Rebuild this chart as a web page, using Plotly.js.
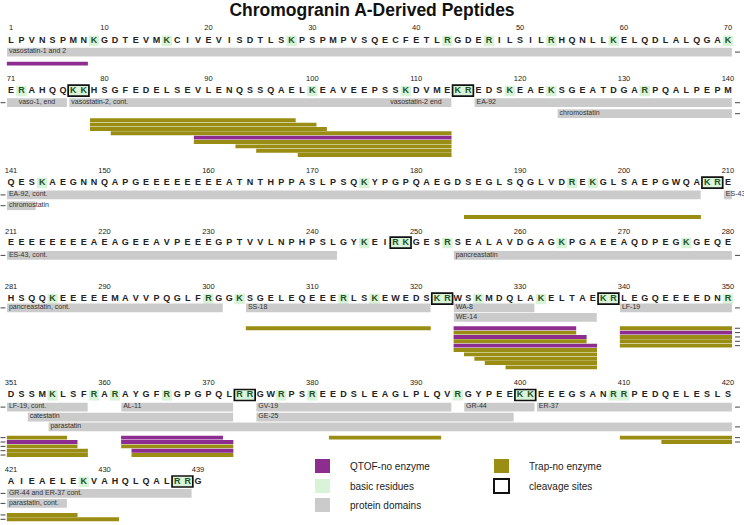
<!DOCTYPE html>
<html><head><meta charset="utf-8">
<script src="https://cdn.plot.ly/plotly-3.0.1.min.js"></script>
<style>html,body{margin:0;padding:0;background:#fff}</style>
</head><body><div id="chart" style="width:744px;height:525px"></div>
<script>
// ---------------- DATA ----------------
const titleText = "Chromogranin A-Derived Peptides";
const sequence =
 "LPVNSPMNKGDTEVMKCIVEVISDTLSKPSPMPVSQECFETLRGDERILSILRHQNLLKELQDLALQGAK" +
 "ERAHQQKKHSGFEDELSEVLENQSSQAELKEAVEEPSSKDVMEKREDSKEAEKSGEATDGARPQALPEPM" +
 "QESKAEGNNQAPGEEEEEEEEATNTHPPASLPSQKYPGPQAEGDSEGLSQGLVDREKGLSAEPGWQAKRE" +
 "EEEEEEEEAEAGEEAVPEEEGPTVVLNPHPSLGYKEIRKGESRSEALAVDGAGKPGAEEAQDPEGKGEQE" +
 "HSQQKEEEEEMAVVPQGLFRGGKSGELEQEEERLSKEWEDSKRWSKMDQLAKELTAEKRLEGQEEEEDNR" +
 "DSSMKLSFRARAYGFRGPGPQLRRGWRPSREEDSLEAGLPLQVRGYPEEKKEEEGSANRRPEDQELESLS" +
 "AIEAELEKVAHQLQALRRG";
const basicResidues = ["K", "R"];
const cleavageSites = [77, 114, 208, 248, 322, 338, 373, 400, 437]; // first residue of each pair

// protein domains, as drawn per line
const domStart = [1, 71, 77, 116, 124, 141, 141, 210, 211, 254, 281, 304, 324, 324, 340, 351, 362, 375, 395, 402, 353, 375, 355, 421, 421];
const domEnd   = [70, 76, 113, 140, 140, 207, 143, 210, 242, 280, 301, 321, 331, 337, 350, 358, 372, 393, 401, 420, 372, 399, 420, 438, 426];
const domTrack = [0, 0, 0, 0, 1, 0, 1, 0, 0, 0, 0, 0, 0, 1, 0, 0, 0, 0, 0, 0, 1, 1, 2, 0, 1];
const domLabel = ["vasostatin-1 and 2", "vaso-1, end", "vasostatin-2, cont.", "EA-92", "chromostatin",
  "EA-92, cont.", "chromostatin", "ES-43", "ES-43, cont.", "pancreastatin", "pancreastatin, cont.",
  "SS-18", "WA-8", "WE-14", "LF-19", "LF-19, cont.", "AL-11", "GV-19", "GR-44", "ER-37",
  "catestatin", "GE-25", "parastatin", "GR-44 and ER-37 cont.", "parastatin, cont."];
const domCont  = ["R", "L", "", "R", "R", "L", "L", "", "L", "R", "L", "", "", "", "R", "L", "", "", "", "R", "", "", "R", "L", "L"];
const domAlign = ["l", "c", "l", "l", "l", "l", "l", "l", "l", "l", "l", "l", "l", "l", "l", "l", "l", "l", "l", "l", "l", "l", "l", "l", "l"];
const extraLabel = ["vasostatin-2 end"];
const extraLabelAt = [108];
const extraLabelTrack = [0];

// observed peptides (Q = QTOF-no enzyme, T = Trap-no enzyme)
const pepStart = [1, 79, 79, 79, 81, 89, 89, 93, 95, 99, 185, 304, 324, 324, 324, 324, 324, 324, 325, 326, 327, 329, 340, 340, 340, 340, 340, 362, 362, 362, 363, 363, 382, 410, 414];
const pepEnd   = [8, 98, 100, 101, 113, 113, 113, 113, 113, 113, 207, 321, 335, 335, 336, 336, 337, 337, 337, 337, 337, 337, 356, 357, 357, 358, 358, 371, 372, 372, 372, 372, 392, 427, 431];
const pepType  = ["Q", "T", "T", "T", "T", "Q", "T", "T", "T", "T", "T", "T", "Q", "T", "Q", "T", "Q", "T", "T", "T", "T", "T", "T", "Q", "T", "T", "T", "Q", "Q", "T", "Q", "T", "T", "T", "T"];

const legendNames = ["QTOF-no enzyme", "basic residues", "protein domains", "Trap-no enzyme", "cleavage sites"];

// ---------------- LAYOUT / STYLE ----------------
const W = 744, H = 525, C1 = 11, DX = 10.39, PER = 70;
const COL = {Q: "#8c2d8f", T: "#9a8d13", gray: "#cbcbcb", green: "#d8f3d8", text: "#222", basic: "#1d521f"};
const FONT = "Liberation Sans, Arial, sans-serif";
const lineY = [
  {num: 28,    let: 40.5,  gray: [47.7, 58],          bars: 61.7},
  {num: 79,    let: 90.7,  gray: [98.3, 109.3],       bars: 118.3},
  {num: 170.7, let: 182.7, gray: [190.5, 201.3],      bars: 215},
  {num: 231.7, let: 242.7, gray: [251],               bars: 265},
  {num: 287,   let: 298.7, gray: [303.5, 313],        bars: 326.3},
  {num: 383.3, let: 395,   gray: [402.7, 412.7, 422.5], bars: 435.7},
  {num: 470,   let: 481.5, gray: [489, 499],          bars: 513}
];
const GRAY_H = 8.8, ROW_P = 4.35, ROW_H = 3.9;
const N = sequence.length;
const nLines = Math.ceil(N / PER);
const lineOf = r => Math.floor((r - 1) / PER);
const colOf = r => r - lineOf(r) * PER;
const pxToCol = px => 1 + (px - C1) / DX;

const traces = [];
function barTrace(items, color, lineOpt) {
  traces.push({
    type: "bar", orientation: "h",
    base: items.map(d => d.c0), x: items.map(d => d.c1 - d.c0), y: items.map(d => d.y),
    width: items.map(d => d.h),
    marker: {color: color, line: lineOpt || {width: 0}},
    hoverinfo: "skip", showlegend: false
  });
}
function textTrace(xs, ys, texts, size, color, pos, weight) {
  traces.push({
    type: "scatter", mode: "text", x: xs, y: ys, text: texts,
    textposition: pos || "middle center",
    textfont: {family: FONT, size: size, color: color, weight: weight || "normal"},
    hoverinfo: "skip", showlegend: false, cliponaxis: false
  });
}

// basic residue highlights
const hl = [];
for (let r = 1; r <= N; r++) {
  if (basicResidues.includes(sequence[r - 1])) {
    const c = colOf(r);
    hl.push({c0: c - 0.5, c1: c + 0.5, y: lineY[lineOf(r)].let + 0.3, h: 10.5});
  }
}
barTrace(hl, COL.green);

// domains
const dom = [], dashX = [], dashY = [];
const labX = [], labY = [], labT = [], labP = [];
domStart.forEach((s, i) => {
  const L = lineOf(s), e = domEnd[i];
  const yc = lineY[L].gray[domTrack[i]] + GRAY_H / 2;
  const c0 = colOf(s), c1 = colOf(e);
  dom.push({c0: c0 - 0.5 + 0.12, c1: c1 + 0.5 - 0.12, y: yc, h: GRAY_H});
  if (domAlign[i] === "c") { labX.push((c0 + c1) / 2); labP.push("middle center"); }
  else { labX.push(c0 - 0.5 + 0.3); labP.push("middle right"); }
  labY.push(yc - 0.6); labT.push(domLabel[i]);
  if (domCont[i].includes("L")) { dashX.push(pxToCol(3)); dashY.push(yc); }
  if (domCont[i].includes("R")) { dashX.push(pxToCol(737.5)); dashY.push(yc); }
});
extraLabel.forEach((t, i) => {
  const r = extraLabelAt[i], L = lineOf(r);
  labX.push(colOf(r) - 0.5); labY.push(lineY[L].gray[extraLabelTrack[i]] + GRAY_H / 2 - 0.6);
  labT.push(t); labP.push("middle right");
});
barTrace(dom, COL.gray);

// peptides: split across lines and stack greedily per line
const rows = Array.from({length: nLines}, () => []);
const pepBars = {Q: [], T: []};
pepStart.forEach((s, i) => {
  const e = pepEnd[i];
  for (let L = lineOf(s); L <= lineOf(e); L++) {
    const ls = L * PER + 1, le = L * PER + PER;
    const ss = Math.max(s, ls), se = Math.min(e, le);
    let k = 0;
    while (rows[L][k] && rows[L][k].some(([a, b]) => !(ss > b + 1 || se < a - 1))) k++;
    if (!rows[L][k]) rows[L][k] = [];
    rows[L][k].push([ss, se]);
    const yc = lineY[L].bars + k * ROW_P + ROW_H / 2;
    pepBars[pepType[i]].push({c0: colOf(ss) - 0.5 + 0.1, c1: colOf(se) + 0.5 - 0.1, y: yc, h: ROW_H});
    if (e > le) { dashX.push(pxToCol(737.5)); dashY.push(yc); }
    if (s < ls) { dashX.push(pxToCol(3)); dashY.push(yc); }
  }
});
barTrace(pepBars.T, COL.T);
barTrace(pepBars.Q, COL.Q);

// cleavage site boxes
const cb = cleavageSites.map(r => ({c0: colOf(r) - 0.5, c1: colOf(r + 1) + 0.5, y: lineY[lineOf(r)].let, h: 11}));
barTrace(cb, "rgba(0,0,0,0)", {color: "#111", width: 1.7});

// letters
const lx = [], ly = [], lt = [], bx = [], by = [], bt = [];
for (let r = 1; r <= N; r++) {
  const ch = sequence[r - 1], L = lineOf(r);
  if (basicResidues.includes(ch)) { bx.push(colOf(r)); by.push(lineY[L].let); bt.push(ch); }
  else { lx.push(colOf(r)); ly.push(lineY[L].let); lt.push(ch); }
}
textTrace(lx, ly, lt, 9, COL.text, "middle center", "bold");
textTrace(bx, by, bt, 9, COL.basic, "middle center", "bold");

// residue numbers
const nx = [], ny = [], nt = [];
for (let r = 1; r <= N; r++) {
  const L = lineOf(r);
  if (r === L * PER + 1 || r % 10 === 0 || r === N) { nx.push(colOf(r)); ny.push(lineY[L].num); nt.push(String(r)); }
}
textTrace(nx, ny, nt, 7.5, COL.text);

// domain labels
textTrace(labX, labY, labT, 7, "#333", labP);

// continuation dashes (small horizontal ticks)
traces.push({
  type: "scatter", mode: "markers", x: dashX, y: dashY,
  marker: {symbol: "line-ew", size: 3.5, line: {width: 1, color: "#444"}},
  hoverinfo: "skip", showlegend: false, cliponaxis: false
});

// legend (drawn manually, two columns)
const px = x => x / W, py = y => 1 - y / H;
const legX = [315, 315, 315, 494, 494], legY = [466, 486, 505, 466, 486];
const legFill = [COL.Q, COL.green, COL.gray, COL.T, "#ffffff"];
const shapes = [], annotations = [];
legendNames.forEach((n, i) => {
  shapes.push({type: "rect", xref: "paper", yref: "paper",
    x0: px(legX[i]), x1: px(legX[i] + 15), y0: py(legY[i] + 7), y1: py(legY[i] - 7),
    fillcolor: legFill[i], line: {width: i === 4 ? 2 : 0, color: "#111"}});
  annotations.push({xref: "paper", yref: "paper", x: px(legX[i] + 33), y: py(legY[i]),
    xanchor: "left", yanchor: "middle", text: n, showarrow: false,
    font: {family: FONT, size: 10, color: "#222"}});
});

const layout = {
  width: W, height: H, margin: {l: 0, r: 0, t: 0, b: 0},
  paper_bgcolor: "#fff", plot_bgcolor: "#fff",
  barmode: "overlay", showlegend: false,
  title: {text: titleText, x: 0.5, xanchor: "center", y: 1 - 10 / H, yanchor: "middle",
    font: {family: FONT, size: 17.5, color: "#111", weight: "bold"}},
  xaxis: {range: [pxToCol(0), pxToCol(W)], visible: false, fixedrange: true},
  yaxis: {range: [H, 0], visible: false, fixedrange: true},
  shapes: shapes, annotations: annotations
};
Plotly.newPlot("chart", traces, layout, {displayModeBar: false, staticPlot: true});
</script>
</body></html>
